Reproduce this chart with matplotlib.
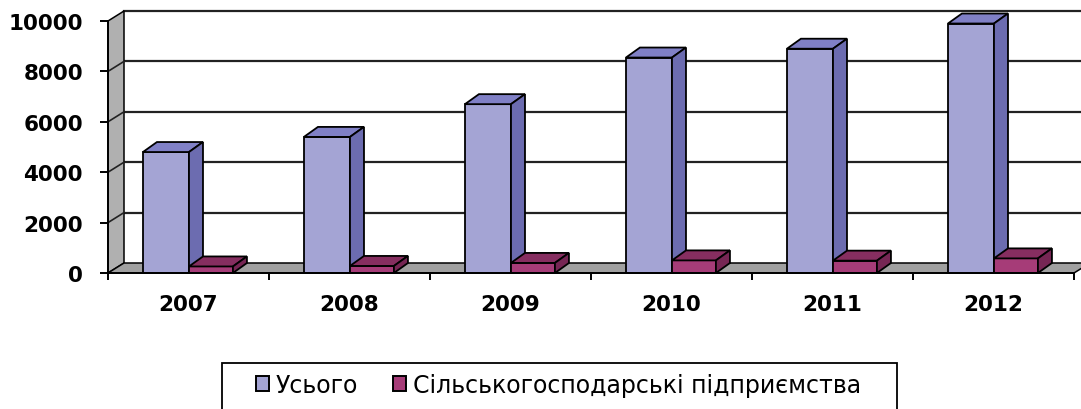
import numpy as np
import matplotlib.pyplot as plt
from matplotlib.patches import Polygon, Patch, Rectangle

years = ["2007", "2008", "2009", "2010", "2011", "2012"]
total = [4800, 5400, 6700, 8550, 8900, 9900]
agri = [260, 280, 400, 500, 490, 580]
series_names = ["Усього", "Сільськогосподарські підприємства"]
y_ticks = [0, 2000, 4000, 6000, 8000, 10000]

# colours: front, top, side
c_total = ("#A4A4D4", "#8080C6", "#6C6CB0")
c_agri = ("#A63C78", "#862E60", "#762654")

W, H = 1081, 410
fig = plt.figure(figsize=(W / 100, H / 100), dpi=100)
ax = fig.add_axes([108 / W, (H - 274) / H, 966 / W, 252 / H])
ax.set_xlim(0, 6)
ax.set_ylim(0, 10000)

px_x = 6 / 966          # categories per pixel
px_y = 10000 / 252      # value per pixel
wdx, wdy = 16 * px_x, 10 * px_y   # wall depth
bdx, bdy = 14 * px_x, 10 * px_y   # bar depth

def poly(pts, fc, z, lw=1.3):
    p = Polygon(pts, closed=True, facecolor=fc, edgecolor="black",
                linewidth=lw, clip_on=False, zorder=z, joinstyle="miter")
    ax.add_patch(p)

# back wall gridlines and left wall
n = len(years)
for v in y_ticks[1:]:
    ax.plot([wdx, n + wdx], [v + wdy, v + wdy], color="#222222", lw=1.6,
            clip_on=False, zorder=1)
poly([(0, 0), (wdx, wdy), (wdx, y_ticks[-1] + wdy), (0, y_ticks[-1])], "#B0B0B0", 2, 1.1)
for v in y_ticks[1:-1]:
    ax.plot([0, wdx], [v, v + wdy], color="#222222", lw=1.2, clip_on=False, zorder=3)
# floor
poly([(0, 0), (n, 0), (n + wdx, wdy), (wdx, wdy)], "#A0A0A0", 2, 1.1)

def bar3d(x0, w, h, cols, z):
    f, t, s = cols
    poly([(x0, 0), (x0 + w, 0), (x0 + w, h), (x0, h)], f, z)
    poly([(x0, h), (x0 + w, h), (x0 + w + bdx, h + bdy), (x0 + bdx, h + bdy)], t, z)
    poly([(x0 + w, 0), (x0 + w + bdx, bdy), (x0 + w + bdx, h + bdy), (x0 + w, h)], s, z)

for i in range(n):
    bar3d(i + 0.217, 0.286, total[i], c_total, 5 + 2 * i)
    bar3d(i + 0.503, 0.273, agri[i], c_agri, 6 + 2 * i)

for sp in ["top", "right"]:
    ax.spines[sp].set_visible(False)
for sp in ["left", "bottom"]:
    ax.spines[sp].set_linewidth(1.4)
    ax.spines[sp].set_zorder(30)

ax.set_yticks(y_ticks)
ax.set_yticklabels([str(v) for v in y_ticks])
ax.tick_params(axis="y", length=6, width=1.4, pad=12)
ax.set_xticks(np.arange(n + 1))
ax.set_xticklabels([])
ax.set_xticks(np.arange(n) + 0.5, minor=True)
ax.set_xticklabels(years, minor=True)
ax.tick_params(axis="x", which="major", length=5, width=1.4)
ax.tick_params(axis="x", which="minor", length=0, pad=15)
for lab in ax.get_yticklabels() + ax.get_xticklabels(minor=True):
    lab.set_fontfamily("DejaVu Sans")
    lab.set_fontweight("bold")
    lab.set_fontsize(15.5)

# legend
fig.patches.append(Rectangle((222 / W, 1 - 420 / H), 675 / W, 56 / H,
                             transform=fig.transFigure, facecolor="white",
                             edgecolor="black", linewidth=1.3, clip_on=False))
handles = [Patch(facecolor=c_total[0], edgecolor="black", linewidth=1.4),
           Patch(facecolor=c_agri[0], edgecolor="black", linewidth=1.4)]
fig.legend(handles, series_names, loc="center left",
           bbox_to_anchor=(256 / W, 1 - 386 / H), ncol=2, frameon=False,
           handlelength=0.55, handleheight=0.6, handletextpad=0.3,
           columnspacing=1.45, borderpad=0, borderaxespad=0,
           prop={"family": "DejaVu Sans", "size": 17})

fig.savefig("out.png", dpi=100)
